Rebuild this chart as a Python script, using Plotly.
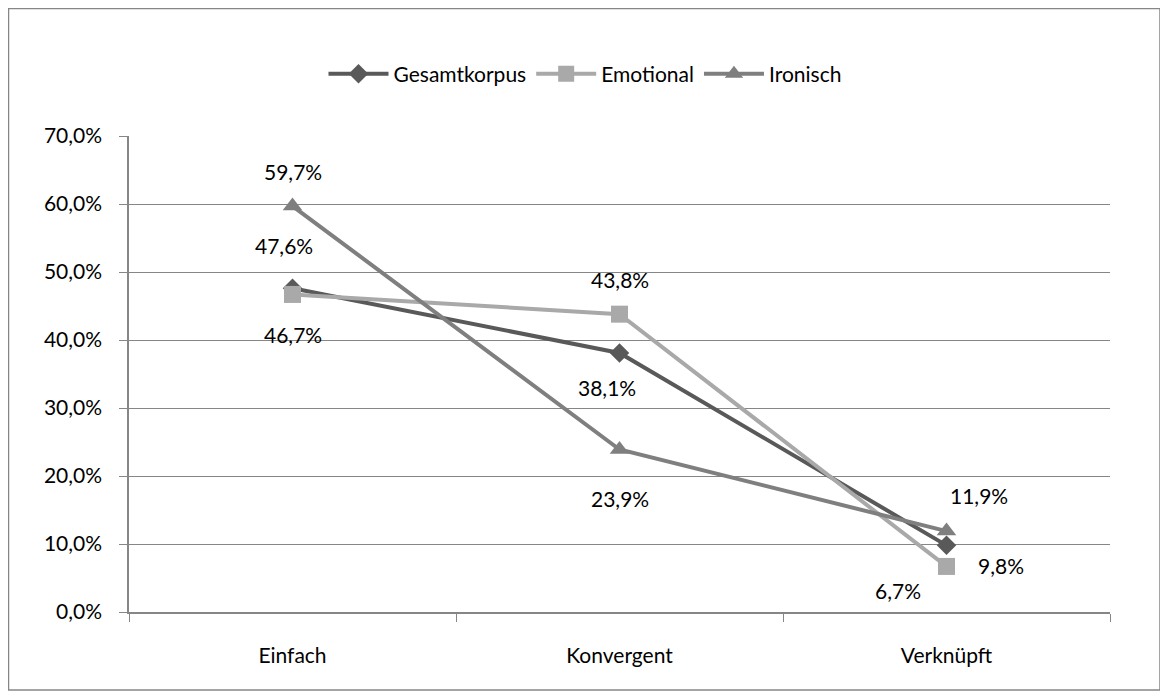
import plotly.graph_objects as go

categories = ["Einfach", "Konvergent", "Verknüpft"]
gesamtkorpus = [0.476, 0.381, 0.098]
emotional = [0.467, 0.438, 0.067]
ironisch = [0.597, 0.239, 0.119]

FONT = "Lato"
FS = 21
GRID = "#868686"

# page body has an 8px margin, so the figure starts at (8, 8) on screen
OFF = 8
W, H = 1168 - OFF, 700 - OFF
# plot area on screen: x 129..1110, y 136..612
L, T = 129 - OFF, 136 - OFF
R, B = W - (1110 - OFF), H - (612 - OFF)
pw, ph = W - L - R, H - T - B


def px(x):
    return (x - OFF - L) / pw


def py(y):
    return (H - B - (y - OFF)) / ph


def pct(v):
    return f"{v * 100:.1f}".replace(".", ",") + "%"


series = [
    ("Gesamtkorpus", gesamtkorpus, "#595959", "diamond", 15),
    ("Emotional", emotional, "#a9a9a9", "square", 17),
    ("Ironisch", ironisch, "#7f7f7f", "triangle-up", 17),
]

# label offsets (xshift, yshift) per series/point
offsets = {
    "Gesamtkorpus": [(-9, 43), (-13, -35), (54, -20)],
    "Emotional": [(0, -40), (0, 35), (-49, -24)],
    "Ironisch": [(0, 35), (0, -49), (32, 36)],
}

fig = go.Figure()
annotations = []
for name, vals, color, symbol, size in series:
    fig.add_trace(go.Scatter(
        x=categories, y=vals, name=name,
        mode="lines+markers",
        line=dict(color=color, width=4),
        marker=dict(symbol=symbol, size=size, color=color),
    ))
    for c, v, (dx, dy) in zip(categories, vals, offsets[name]):
        annotations.append(dict(
            x=c, y=v, xref="x", yref="y", text=pct(v), showarrow=False,
            xshift=dx, yshift=dy, font=dict(family=FONT, size=FS, color="black"),
        ))

fig.update_layout(
    width=W, height=H,
    margin=dict(l=L, r=R, t=T, b=B),
    paper_bgcolor="white", plot_bgcolor="white",
    separators=",.",
    font=dict(family=FONT, size=FS, color="black"),
    annotations=annotations,
    legend=dict(
        orientation="h", x=px(585), xanchor="center", y=py(74), yanchor="middle",
        font=dict(family=FONT, size=FS), itemwidth=60, tracegroupgap=0,
    ),
    shapes=[dict(
        type="rect", xref="paper", yref="paper",
        x0=px(8.5), x1=px(1160), y0=py(690), y1=py(8.5),
        line=dict(color=GRID, width=1.5),
    )],
    xaxis=dict(
        type="category", range=[-0.5, 2.5], tickson="boundaries",
        ticks="outside", ticklen=8, tickcolor=GRID,
        showline=True, linecolor=GRID, linewidth=1.5,
        showgrid=False, ticklabelstandoff=24,
    ),
    yaxis=dict(
        range=[0, 0.7], dtick=0.1, tickformat=".1%",
        ticks="outside", ticklen=8, tickcolor=GRID,
        showline=True, linecolor=GRID, linewidth=1.5,
        showgrid=True, gridcolor=GRID, gridwidth=1,
        zeroline=False, ticklabelstandoff=13,
    ),
    showlegend=True,
)

fig.write_html("out.html")
